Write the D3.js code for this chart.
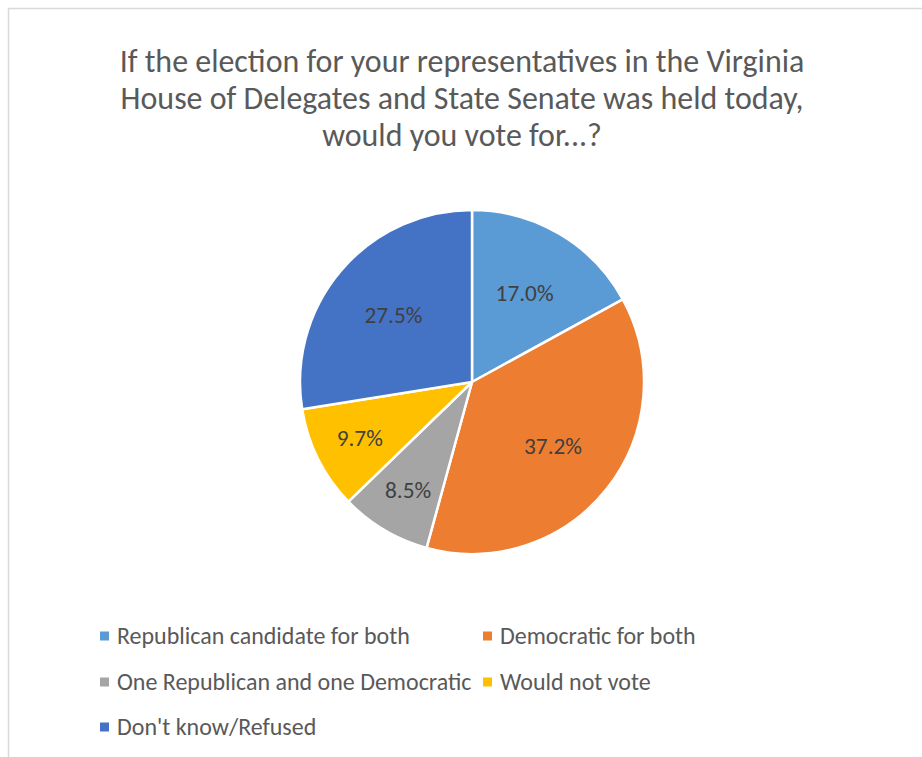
<!DOCTYPE html>
<html><head><meta charset="utf-8">
<script src="https://cdn.jsdelivr.net/npm/d3@7"></script>
<style>body{margin:0;background:#fff;} svg{display:block;}</style>
</head><body>
<svg id="chart" width="922" height="757"></svg>
<script>
const titleLines = ["If the election for your representatives in the Virginia","House of Delegates and State Senate was held today,","would you vote for...?"];
const categories = ["Republican candidate for both","Democratic for both","One Republican and one Democratic","Would not vote","Don't know/Refused"];
const values = [17.0, 37.2, 8.5, 9.7, 27.5];
const colors = ["#5b9bd5","#ed7d31","#a5a5a5","#ffc000","#4472c4"];

const svg = d3.select("#chart");
const FONT = "Carlito, Lato, 'Liberation Sans', sans-serif";

svg.append("rect").attr("x",8.5).attr("y",8.5).attr("width",1000).attr("height",1000)
  .attr("fill","#fff").attr("stroke","#d9d9d9").attr("stroke-width",1.5);

// title
const tg = svg.append("g");
const tBase = [72,109,146];
const tt = tg.selectAll("text").data(titleLines).join("text")
  .attr("x",462).attr("y",(d,i)=>tBase[i]).attr("text-anchor","middle")
  .attr("font-family",FONT).attr("font-size",28).attr("fill","#595959").text(d=>d);
const w0 = tt.nodes()[0].getComputedTextLength();
tt.attr("font-size",28*685/w0);

// pie
const cx=472, cy=382, R=172;
const pie = d3.pie().sort(null).value(d=>d)(values);
const arc = d3.arc().innerRadius(0).outerRadius(R);
const g = svg.append("g").attr("transform",`translate(${cx},${cy})`);
g.selectAll("path").data(pie).join("path")
  .attr("d",arc).attr("fill",(d,i)=>colors[i]).attr("stroke","#fff").attr("stroke-width",2.5).attr("stroke-linejoin","round");
const lbl = g.selectAll("text.lbl").data(pie).join("text").attr("class","lbl")
  .attr("transform",d=>{
    const a=(d.startAngle+d.endAngle)/2;
    const r = (d.value<10)? R*0.73 : R*0.6;
    return `translate(${r*Math.sin(a)},${-r*Math.cos(a)})`;
  })
  .attr("text-anchor","middle").attr("dy","0.35em")
  .attr("font-family",FONT).attr("font-size",18).attr("fill","#404040")
  .text(d=>d.value.toFixed(1)+"%");
const lw0 = lbl.nodes()[0].getComputedTextLength();
lbl.attr("font-size",18*58/lw0);

// legend
const lx=[100,483], ly=[636,682,727];
const lg = svg.append("g");
const items = lg.selectAll("g").data(categories).join("g")
  .attr("transform",(d,i)=>`translate(${lx[i%2]},${ly[Math.floor(i/2)]})`);
items.append("rect").attr("x",0).attr("y",-4.5).attr("width",9).attr("height",9).attr("fill",(d,i)=>colors[i]);
const lt = items.append("text").attr("x",17).attr("dy","0.35em")
  .attr("font-family",FONT).attr("font-size",20).attr("fill","#595959").text(d=>d);
const lw = lt.nodes()[0].getComputedTextLength();
lt.attr("font-size",20*293/lw);
</script>
</body></html>
